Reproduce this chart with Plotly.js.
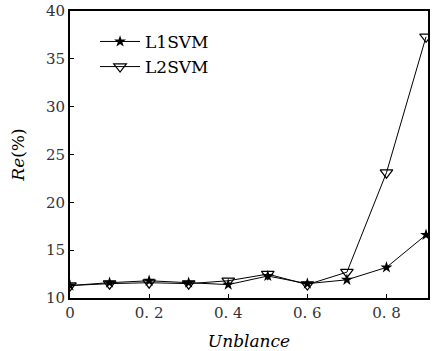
<!DOCTYPE html>
<html><head><meta charset="utf-8">
<script src="https://cdn.plot.ly/plotly-3.0.1.min.js"></script>
<style>html,body{margin:0;padding:0;background:#fff}#c{width:436px;height:351px}</style>
</head><body><div id="c"></div>
<script>
const xVals = [0, 0.1, 0.2, 0.3, 0.4, 0.5, 0.6, 0.7, 0.8, 0.9];
const l1svm = [11.3, 11.6, 11.8, 11.6, 11.4, 12.3, 11.5, 11.9, 13.2, 16.6];
const l2svm = [11.3, 11.5, 11.6, 11.5, 11.8, 12.5, 11.4, 12.7, 23.1, 37.3];
const xTickVals = [0, 0.2, 0.4, 0.6, 0.8];
const xTickText = ['0', '0. 2', '0. 4', '0. 6', '0. 8'];
const yTickVals = [10, 15, 20, 25, 30, 35, 40];

const fam = 'DejaVu Serif';
const font = {family: fam, color: '#000'};
const tickFont = {family: fam, color: '#333', size: 15};
const traces = [
  {x: xVals, y: l1svm, name: 'L1SVM', mode: 'lines+markers',
   line: {color: '#000', width: 1},
   marker: {symbol: 'star', size: 9, color: '#000'}},
  {x: xVals, y: l2svm, name: 'L2SVM', mode: 'lines+markers',
   line: {color: '#000', width: 1},
   marker: {symbol: 'triangle-down-open', size: 11, color: '#000', line: {width: 1.2}}}
];
const layout = {
  width: 436, height: 351,
  margin: {l: 70, r: 8, t: 11, b: 53},
  paper_bgcolor: '#fff', plot_bgcolor: '#fff',
  font: Object.assign({size: 16}, font),
  showlegend: true,
  legend: {x: 0.07, y: 0.955, xanchor: 'left', yanchor: 'top',
    bgcolor: 'rgba(0,0,0,0)', font: Object.assign({size: 17}, font),
    tracegroupgap: 0, itemwidth: 40},
  xaxis: {range: [0, 0.905], tickvals: xTickVals, ticktext: xTickText,
    ticks: 'inside', ticklen: 4, tickcolor: '#000', showgrid: false, zeroline: false,
    showline: true, linecolor: '#000', linewidth: 2, mirror: true,
    tickfont: tickFont,
    title: {text: '<i>Unblance</i>', font: Object.assign({size: 17}, font), standoff: 20}},
  yaxis: {range: [10, 40], tickvals: yTickVals,
    ticks: 'inside', ticklen: 4, tickcolor: '#000', showgrid: false, zeroline: false,
    showline: true, linecolor: '#000', linewidth: 2, mirror: true,
    tickfont: tickFont,
    title: {text: '<i>Re</i>(%)', font: Object.assign({size: 17}, font), standoff: 17}}
};
Plotly.newPlot('c', traces, layout, {displayModeBar: false, staticPlot: true});
</script></body></html>
